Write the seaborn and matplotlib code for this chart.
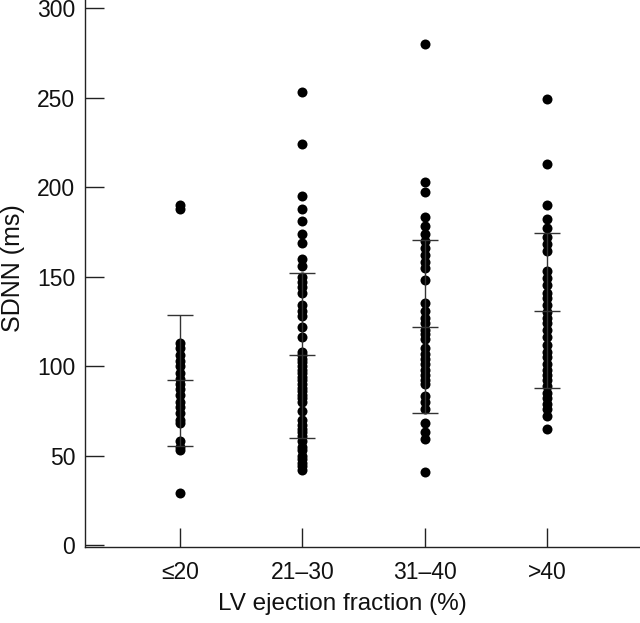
import numpy as np
import pandas as pd
import matplotlib
matplotlib.use("Agg")
import matplotlib.pyplot as plt
import seaborn as sns

categories = ["≤20", "21–30", "31–40", ">40"]

g_le20 = [190, 188, 113, 110, 106, 103, 100, 96, 93, 90, 87, 84, 80, 77, 74,
          70, 68, 58, 55, 53, 29]
g_21_30 = [253, 224, 195, 188, 181, 174, 169, 160, 156, 150, 147, 144, 141, 134,
           131, 128, 122, 116, 108, 106, 104, 102, 100, 98, 96, 94, 92, 90, 88,
           86, 84, 82, 80, 75, 70, 67, 65, 63, 61, 58, 55, 53, 50, 48, 46, 44, 42]
g_31_40 = [280, 203, 197, 183, 178, 174, 170, 166, 162, 158, 155, 148, 135, 131,
           127, 124, 120, 118, 115, 110, 107, 104, 101, 98, 95, 92, 90, 83, 80,
           76, 68, 63, 59, 41]
g_gt40 = [249, 213, 190, 182, 177, 172, 168, 164, 153, 149, 145, 141, 138, 134,
          130, 127, 124, 120, 116, 112, 108, 105, 101, 98, 95, 92, 89, 85, 82,
          79, 76, 72, 65]

means = [92, 106, 122, 131]
sds = [36.6, 46, 48.5, 43.5]

yticks = [0, 50, 100, 150, 200, 250, 300]

groups = [g_le20, g_21_30, g_31_40, g_gt40]
df = pd.DataFrame({
    "cat": [c for c, g in zip(categories, groups) for _ in g],
    "val": [v for g in groups for v in g],
})

sns.set_style("white")
plt.rcParams["font.family"] = ["Liberation Sans", "DejaVu Sans"]

fig = plt.figure(figsize=(6.4, 6.23), dpi=100)
ax = fig.add_axes([85/640, 1 - 547/623, 555/640, 547/623])

sns.stripplot(data=df, x="cat", y="val", order=categories, jitter=False,
              color="black", size=7.2, linewidth=0, ax=ax, zorder=2)

xs = np.arange(len(categories))
ax.errorbar(xs, means, yerr=sds, fmt="none", ecolor="#333333", elinewidth=1.0,
            capsize=9.5, capthick=1.0, zorder=3)
ax.plot(xs, means, linestyle="none", marker="_", markersize=19,
        markeredgewidth=1.0, color="#333333", zorder=3)

ax.set_xlim(-0.777, 3.76)
ax.set_ylim(-1.1, 304.5)
ax.set_yticks(yticks)
ax.set_xticks(xs)
ax.set_xticklabels(categories)

for s in ["top", "right"]:
    ax.spines[s].set_visible(False)
for s in ["left", "bottom"]:
    ax.spines[s].set_color("#222222")
    ax.spines[s].set_linewidth(1.0)

ax.tick_params(axis="both", direction="in", length=13.5, width=1.0,
               color="#222222", labelsize=16.5, labelcolor="#111111")
ax.tick_params(axis="y", pad=7, left=True)
ax.tick_params(axis="x", pad=10, bottom=True)

ax.set_xlabel("LV ejection fraction (%)", fontsize=17.5, color="#111111", labelpad=6)
ax.xaxis.set_label_coords((342 - 85) / 555, -0.085)
ax.set_ylabel("SDNN (ms)", fontsize=18, color="#111111")
ax.yaxis.set_label_coords(-(85 - 25) / 555, (547 - 268) / 547)

fig.savefig("out.png", dpi=100)
